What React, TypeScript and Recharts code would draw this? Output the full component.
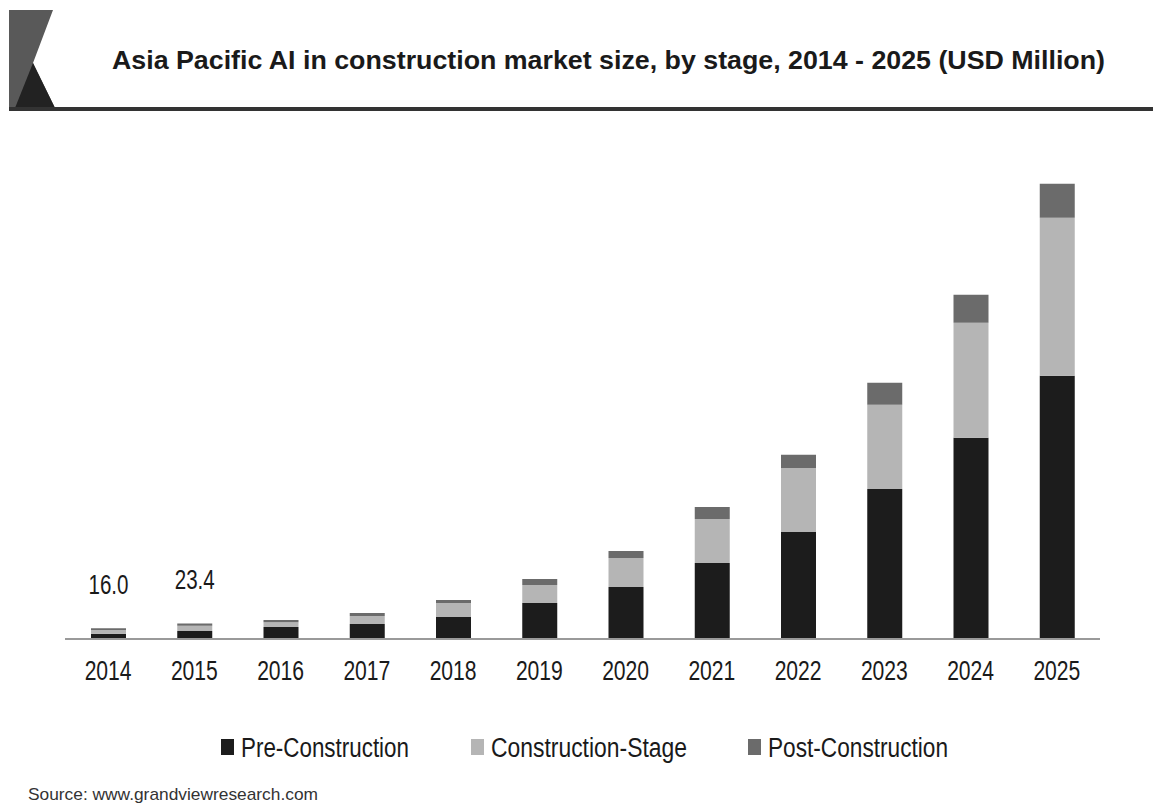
import React from 'react';
import { BarChart, Bar, XAxis, YAxis, LabelList } from 'recharts';

// values (USD Million)
const years = ['2014', '2015', '2016', '2017', '2018', '2019', '2020', '2021', '2022', '2023', '2024', '2025'];
const preConstruction = [8.0, 12.0, 18.0, 22.5, 33.0, 54.0, 78.0, 114.0, 160.5, 225.0, 301.5, 394.5];
const constructionStage = [5.5, 8.0, 7.0, 12.0, 21.0, 27.0, 43.5, 66.0, 96.0, 126.0, 172.5, 237.0];
const postConstruction = [2.5, 3.4, 3.5, 4.5, 4.5, 9.0, 10.5, 18.0, 19.5, 33.0, 42.0, 51.0];
const totalLabels = ['16.0', '23.4', '', '', '', '', '', '', '', '', '', ''];

const seriesNames = ['Pre-Construction', 'Construction-Stage', 'Post-Construction'];
const seriesColors = ['#1c1c1c', '#b5b5b5', '#6b6b6b'];

const data = years.map((year, i) => ({
  year,
  pre: preConstruction[i],
  construction: constructionStage[i],
  post: postConstruction[i],
  label: totalLabels[i],
}));

const FONT = "'Liberation Sans', Arial, sans-serif";

const YearTick = (props: any) => {
  const { x, payload } = props;
  return (
    <text x={x} y={680} textAnchor="middle" fontFamily={FONT} fontSize={28} fill="#1a1a1a"
      textLength={47} lengthAdjust="spacingAndGlyphs">
      {payload.value}
    </text>
  );
};

const TotalLabel = (props: any) => {
  const { x, y, width, index } = props;
  const text = totalLabels[index];
  if (!text) return null;
  return (
    <text x={x + width / 2} y={y - 34} textAnchor="middle" fontFamily={FONT} fontSize={28} fill="#1a1a1a"
      textLength={40} lengthAdjust="spacingAndGlyphs">
      {text}
    </text>
  );
};

const legendX = [221, 471, 748];
const legendWidths = [168, 196, 180];

export default function App() {
  return (
    <div style={{ position: 'absolute', left: 0, top: 0, width: 1153, height: 807, background: '#fff' }}>
      <BarChart
        width={1153}
        height={807}
        data={data}
        margin={{ top: 172, right: 53, left: 65, bottom: 128 }}
        barSize={35}
      >
        <XAxis
          dataKey="year"
          height={40}
          tickLine={false}
          axisLine={{ stroke: '#9a9a9a', strokeWidth: 2 }}
          tick={<YearTick />}
          interval={0}
        />
        <YAxis hide domain={[0, 700]} />
        <Bar dataKey="pre" stackId="a" fill={seriesColors[0]} name={seriesNames[0]} isAnimationActive={false} />
        <Bar dataKey="construction" stackId="a" fill={seriesColors[1]} name={seriesNames[1]} isAnimationActive={false} />
        <Bar dataKey="post" stackId="a" fill={seriesColors[2]} name={seriesNames[2]} isAnimationActive={false}>
          <LabelList dataKey="label" content={<TotalLabel />} />
        </Bar>
      </BarChart>

      <svg width={1153} height={807} style={{ position: 'absolute', left: 0, top: 0, pointerEvents: 'none' }}>
        {/* header decoration */}
        <polygon points="9,10 53,10 33,63 55,108 9,108" fill="#595959" />
        <polygon points="33,63 55,108 15,108" fill="#222222" />
        <rect x={9} y={107} width={1144} height={4} fill="#333333" />
        <text x={112} y={69} fontFamily={FONT} fontWeight="bold" fontSize={26} fill="#1a1a1a"
          textLength={993} lengthAdjust="spacingAndGlyphs">
          Asia Pacific AI in construction market size, by stage, 2014 - 2025 (USD Million)
        </text>

        {/* legend */}
        {seriesNames.map((name, i) => (
          <g key={name}>
            <rect x={legendX[i]} y={739} width={13} height={16} fill={seriesColors[i]} />
            <text x={legendX[i] + 20} y={757} fontFamily={FONT} fontSize={27} fill="#1a1a1a"
              textLength={legendWidths[i]} lengthAdjust="spacingAndGlyphs">
              {name}
            </text>
          </g>
        ))}

        <text x={28} y={800} fontFamily={FONT} fontSize={17} fill="#333333"
          textLength={290} lengthAdjust="spacingAndGlyphs">
          Source: www.grandviewresearch.com
        </text>
      </svg>
    </div>
  );
}
